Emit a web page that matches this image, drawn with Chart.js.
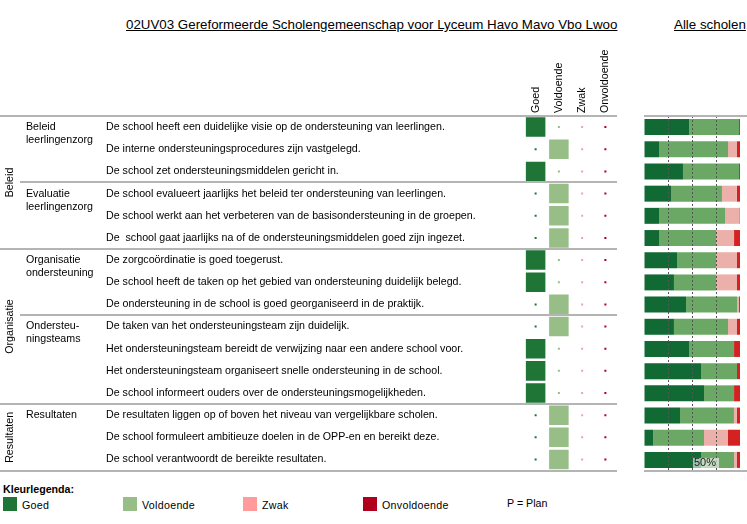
<!DOCTYPE html>
<html>
<head>
<meta charset="utf-8">
<script src="https://cdn.jsdelivr.net/npm/chart.js@4/dist/chart.umd.min.js"></script>
<style>
  body { margin: 0; background: #fff; width: 747px; height: 524px; overflow: hidden; position: relative;
         font-family: "Liberation Sans", Arial, sans-serif; color: #000; }
  canvas { position: absolute; top: 0; }
  .title { position: absolute; top: 17px; font-size: 13.33px; line-height: 16px; text-decoration: underline; white-space: nowrap; }
  .lg { position: absolute; font-size: 10.67px; line-height: 14px; white-space: nowrap; letter-spacing: 0.3px; }
  .sw { position: absolute; width: 14px; height: 14px; top: 497px; }
</style>
</head>
<body>
<div class="title" style="left:126px">02UV03 Gereformeerde Scholengemeenschap voor Lyceum Havo Mavo Vbo Lwoo</div>
<div class="title" style="left:674px">Alle scholen</div>

<canvas id="matrix" width="620" height="480" style="left:0"></canvas>
<canvas id="spread" width="127" height="480" style="left:620px"></canvas>

<div class="lg" style="left:3px; top:482px; font-weight:bold; letter-spacing:0">Kleurlegenda:</div>
<div class="sw" style="left:3px; background:#1e7535"></div>
<div class="lg" style="left:22px; top:498px">Goed</div>
<div class="sw" style="left:123px; background:#97be86"></div>
<div class="lg" style="left:142px; top:498px">Voldoende</div>
<div class="sw" style="left:243px; background:#ff9b9b"></div>
<div class="lg" style="left:262px; top:498px">Zwak</div>
<div class="sw" style="left:363px; background:#b0001e"></div>
<div class="lg" style="left:382px; top:498px">Onvoldoende</div>
<div class="lg" style="left:507px; top:496px; letter-spacing:0">P = Plan</div>

<script>
const FONT = '"Liberation Sans", Arial, sans-serif';

const items = [
  'De school heeft een duidelijke visie op de ondersteuning van leerlingen.',
  'De interne ondersteuningsprocedures zijn vastgelegd.',
  'De school zet ondersteuningsmiddelen gericht in.',
  'De school evalueert jaarlijks het beleid ter ondersteuning van leerlingen.',
  'De school werkt aan het verbeteren van de basisondersteuning in de groepen.',
  'De  school gaat jaarlijks na of de ondersteuningsmiddelen goed zijn ingezet.',
  'De zorgcoördinatie is goed toegerust.',
  'De school heeft de taken op het gebied van ondersteuning duidelijk belegd.',
  'De ondersteuning in de school is goed georganiseerd in de praktijk.',
  'De taken van het ondersteuningsteam zijn duidelijk.',
  'Het ondersteuningsteam bereidt de verwijzing naar een andere school voor.',
  'Het ondersteuningsteam organiseert snelle ondersteuning in de school.',
  'De school informeert ouders over de ondersteuningsmogelijkheden.',
  'De resultaten liggen op of boven het niveau van vergelijkbare scholen.',
  'De school formuleert ambitieuze doelen in de OPP-en en bereikt deze.',
  'De school verantwoordt de bereikte resultaten.'
];

const levels = ['Goed', 'Voldoende', 'Zwak', 'Onvoldoende'];

// score of this school per item
const schoolScore = ['Goed', 'Voldoende', 'Goed', 'Voldoende', 'Voldoende', 'Voldoende',
  'Goed', 'Goed', 'Voldoende', 'Voldoende', 'Goed', 'Goed', 'Goed',
  'Voldoende', 'Voldoende', 'Voldoende'];

const domains = ['Beleid', 'Organisatie', 'Resultaten'];
const domainSize = [6, 7, 3];
const themes = [['Beleid', 'leerlingenzorg'], ['Evaluatie', 'leerlingenzorg'],
  ['Organisatie', 'ondersteuning'], ['Ondersteu-', 'ningsteams'], ['Resultaten']];
const themeSize = [3, 3, 3, 4, 3];

// distribution over all schools (%)
const pctGoed = [47, 15.6, 40.6, 28.1, 15.6, 15.6, 34.4, 31.2, 43.8, 31.2, 46.9, 59.4, 62.5, 37.5, 9.4, 59.4];
const pctVoldoende = [52, 71.9, 58.4, 53.1, 68.8, 59.4, 40.6, 43.8, 53.1, 56.3, 46.9, 37.5, 31.3, 56.2, 53.1, 34.4];
const pctZwak = [0, 9.4, 0, 15.6, 15, 18.8, 21.9, 21.9, 2.1, 9.4, 0, 0, 0, 3.1, 25, 3.1];
const pctOnvoldoende = [1, 3.1, 1, 3.2, 0.6, 6.2, 3.1, 3.1, 1, 3.1, 6.2, 3.1, 6.2, 3.2, 12.5, 3.1];

const markColors = ['#1e7535', '#97be86', '#f4a3a3', '#b0001e'];
const barColors = ['#116a34', '#6ba865', '#ecb0aa', '#d42222'];
const lineColor = '#b4b4b4';

// row separators, domain / theme labels, column headers
const tablePlugin = {
  id: 'table',
  afterDraw(chart) {
    const ctx = chart.ctx, y = chart.scales.y, x = chart.scales.x, area = chart.chartArea;
    const half = (y.getPixelForValue(1) - y.getPixelForValue(0)) / 2;
    const edge = k => k < items.length ? y.getPixelForValue(k) - half : y.getPixelForValue(items.length - 1) + half;

    ctx.save();
    ctx.strokeStyle = lineColor;
    ctx.lineWidth = 2;
    const domainEdges = [0];
    domainSize.forEach(n => domainEdges.push(domainEdges[domainEdges.length - 1] + n));
    const themeEdges = [0];
    themeSize.forEach(n => themeEdges.push(themeEdges[themeEdges.length - 1] + n));
    themeEdges.forEach(k => {
      const yy = Math.round(edge(k));
      const x0 = domainEdges.includes(k) ? 0 : 20;
      ctx.beginPath(); ctx.moveTo(x0, yy); ctx.lineTo(area.right, yy); ctx.stroke();
    });

    ctx.fillStyle = '#000';
    ctx.font = '10.67px ' + FONT;
    ctx.textBaseline = 'middle';
    ctx.textAlign = 'left';
    themes.forEach((lines, t) => {
      const y0 = y.getPixelForValue(themeEdges[t]);
      lines.forEach((s, j) => ctx.fillText(s, 26, y0 + j * 13));
    });

    ctx.textAlign = 'center';
    domains.forEach((d, i) => {
      const yc = (edge(domainEdges[i]) + edge(domainEdges[i + 1])) / 2;
      ctx.save(); ctx.translate(10, yc); ctx.rotate(-Math.PI / 2); ctx.fillText(d, 0, 0); ctx.restore();
    });

    ctx.textAlign = 'left';
    levels.forEach(l => {
      ctx.save(); ctx.translate(x.getPixelForValue(l), area.top - 3); ctx.rotate(-Math.PI / 2);
      ctx.fillText(l, 0, 0); ctx.restore();
    });
    ctx.restore();
  }
};

new Chart(document.getElementById('matrix'), {
  type: 'scatter',
  data: {
    datasets: levels.map((lvl, c) => ({
      label: lvl,
      data: items.map(it => ({ x: lvl, y: it })),
      pointStyle: 'rect',
      pointRadius: schoolScore.map(s => s === lvl ? 13.8 : 1.42),
      pointHoverRadius: schoolScore.map(s => s === lvl ? 13.8 : 1.42),
      backgroundColor: markColors[c],
      borderWidth: 0
    }))
  },
  options: {
    responsive: false,
    animation: false,
    devicePixelRatio: 1,
    layout: { autoPadding: false, padding: { left: 106, right: 3, top: 116, bottom: 9 } },
    scales: {
      x: { type: 'category', labels: levels, offset: true, display: false },
      y: {
        type: 'category', labels: items, offset: true,
        grid: { display: false }, border: { display: false },
        ticks: { crossAlign: 'far', autoSkip: false, color: '#000', font: { family: FONT, size: 10.67 } },
        afterFit: s => { s.width = 418; }
      }
    },
    plugins: { legend: { display: false }, tooltip: { enabled: false } }
  },
  plugins: [tablePlugin]
});

const spreadPlugin = {
  id: 'spread',
  afterDraw(chart) {
    const ctx = chart.ctx, area = chart.chartArea, x = chart.scales.x, y = chart.scales.y;
    ctx.save();
    ctx.strokeStyle = lineColor;
    ctx.lineWidth = 2;
    [area.top, area.bottom].forEach(yy => {
      ctx.beginPath(); ctx.moveTo(area.left, Math.round(yy)); ctx.lineTo(chart.width, Math.round(yy)); ctx.stroke();
    });
    const px = x.getPixelForValue(50), yc = y.getPixelForValue(items.length - 1);
    ctx.fillStyle = 'rgba(255,255,255,0.6)';
    ctx.fillRect(px + 1, yc - 2, 26, 10);
    ctx.fillStyle = '#222';
    ctx.font = '11px ' + FONT;
    ctx.textBaseline = 'middle';
    ctx.fillText('50%', px + 2, yc + 3.5);
    ctx.restore();
  }
};

new Chart(document.getElementById('spread'), {
  type: 'bar',
  data: {
    labels: items,
    datasets: [
      { label: 'Goed', data: pctGoed, backgroundColor: barColors[0] },
      { label: 'Voldoende', data: pctVoldoende, backgroundColor: barColors[1] },
      { label: 'Zwak', data: pctZwak, backgroundColor: barColors[2] },
      { label: 'Onvoldoende', data: pctOnvoldoende, backgroundColor: barColors[3] }
    ]
  },
  options: {
    indexAxis: 'y',
    responsive: false,
    animation: false,
    devicePixelRatio: 1,
    layout: { padding: { left: 24, right: 7, top: 116, bottom: 9 } },
    datasets: { bar: { barPercentage: 0.72, categoryPercentage: 1 } },
    scales: {
      x: {
        stacked: true, min: 0, max: 100,
        ticks: { display: false, stepSize: 25 },
        grid: { z: 1, drawTicks: false, lineWidth: 1,
          color: c => [25, 50, 75].includes(c.tick && c.tick.value) ? '#555' : 'rgba(0,0,0,0)' },
        border: { display: false, dash: [2, 2] },
        afterFit: s => { s.height = 0; }
      },
      y: { stacked: true, display: false }
    },
    plugins: { legend: { display: false }, tooltip: { enabled: false } }
  },
  plugins: [spreadPlugin]
});
</script>
</body>
</html>
